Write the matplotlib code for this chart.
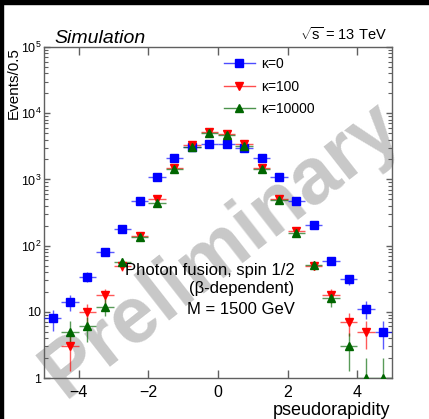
import numpy as np
import matplotlib
matplotlib.use("Agg")
import matplotlib.pyplot as plt
from matplotlib.lines import Line2D
from matplotlib.patches import Rectangle
from matplotlib.ticker import LogLocator, FuncFormatter, NullLocator, FixedLocator
from matplotlib.colors import to_rgba

plt.rcParams['font.family'] = ['Liberation Sans', 'DejaVu Sans']
plt.rcParams['mathtext.fontset'] = 'custom'
plt.rcParams['mathtext.rm'] = 'Liberation Sans'
plt.rcParams['mathtext.it'] = 'Liberation Sans:italic'
plt.rcParams['mathtext.bf'] = 'Liberation Sans:bold'

# ---- data ----
eta_centers = [-4.75, -4.25, -3.75, -3.25, -2.75, -2.25, -1.75, -1.25, -0.75, -0.25,
               0.25, 0.75, 1.25, 1.75, 2.25, 2.75, 3.25, 3.75, 4.25, 4.75]
bin_half_width = 0.25
kappa0 = [8, 14, 34, 79, 178, 472, 1075, 2130, 3040, 3390,
          3460, 3010, 2080, 1100, 472, 205, 59, 31, 11, 5]
kappa100 = [0, 3, 10, 18, 49, 141, 511, 1500, 3300, 5150,
            4900, 3390, 1500, 505, 166, 50, 18, 7, 5, 0]
kappa10000 = [0, 5, 6, 12, 57, 133, 440, 1435, 3100, 4960,
              4730, 3230, 1435, 490, 155, 51, 16, 3, 1, 1]
series_labels = ['κ=0', 'κ=100', 'κ=10000']
x_ticks = [-4, -2, 0, 2, 4]

W, H = 429, 419
fig = plt.figure(figsize=(W / 100, H / 100), dpi=100)
ax = fig.add_axes([44 / W, 41 / H, 348 / W, 331 / H])

styles = [
    dict(marker='s', color='#0000ff', ms=5.8),
    dict(marker='v', color='#ff0000', ms=6.2),
    dict(marker='^', color='#006600', ms=6.2),
]
handles = []
for vals, st, lab in zip([kappa0, kappa100, kappa10000], styles, series_labels):
    x = np.array(eta_centers)
    y = np.array(vals, dtype=float)
    m = y > 0
    ax.errorbar(x[m], y[m], xerr=bin_half_width, yerr=np.sqrt(y[m]),
                fmt=st['marker'], color=st['color'], ms=st['ms'],
                ecolor=to_rgba(st['color'], 0.65), elinewidth=1.0,
                capsize=0, mec=st['color'], zorder=3)
    handles.append(Line2D([0], [0], marker=st['marker'], color=to_rgba(st['color'], 0.7),
                          mfc=st['color'], mec=st['color'], ms=st['ms'], lw=1.0))

ax.set_xlim(-5, 5)
ax.set_yscale('log')
ax.set_ylim(1, 1e5)

ax.xaxis.set_major_locator(FixedLocator(x_ticks))
ax.xaxis.set_minor_locator(NullLocator())
ax.xaxis.set_major_formatter(FuncFormatter(lambda v, p: ('\u2212%d' % abs(v)) if v < 0 else '%d' % v))
ax.yaxis.set_major_locator(LogLocator(base=10, numticks=10))
ax.yaxis.set_minor_locator(LogLocator(base=10, subs=np.arange(2, 10), numticks=20))

def yfmt(v, p):
    e = int(round(np.log10(v)))
    if e == 0:
        return '1'
    if e == 1:
        return '10'
    return r'$10^{%d}$' % e
ax.yaxis.set_major_formatter(FuncFormatter(yfmt))

spine_col = '#606060'
for s in ax.spines.values():
    s.set_color(spine_col)
    s.set_linewidth(1.0)
ax.tick_params(axis='both', which='both', direction='in', top=True, right=True,
               color=spine_col, labelcolor='black')
ax.tick_params(axis='x', which='major', length=5.8, width=1.0, labelsize=11.5, pad=5)
ax.tick_params(axis='y', which='major', length=4.5, width=1.0, labelsize=9, pad=2)
ax.tick_params(axis='y', which='minor', length=2.8, width=0.8)

# watermark
ax.text(222 / W, 1 - 250 / H, 'Preliminary', transform=fig.transFigure,
        rotation=38, fontsize=57, fontweight='bold', color='#c8c8c8',
        ha='center', va='center', zorder=0.5, clip_on=False)

leg = fig.legend(handles=handles, labels=series_labels, loc='upper left',
                 bbox_to_anchor=(224 / W, 1 - 57 / H), frameon=False, fontsize=10,
                 handlelength=2.2, handletextpad=0.45, labelspacing=0.62,
                 borderpad=0, borderaxespad=0, numpoints=1)

fig.text(54 / W, 1 - 43 / H, 'Simulation', style='italic', fontsize=14, va='baseline')
fig.text(387 / W, 1 - 40 / H, r'$\sqrt{\mathrm{s}}$ = 13 TeV', fontsize=10.5,
         ha='right', va='baseline')
fig.text(13.5 / W, 1 - 47 / H, 'Events/0.5', rotation=90, fontsize=11,
         ha='center', va='top')
fig.text(390 / W, 1 - 415 / H, 'pseudorapidity', fontsize=13, ha='right', va='baseline')

fig.text(294.5 / W, 1 - 275 / H, 'Photon fusion, spin 1/2', fontsize=12,
         ha='right', va='baseline')
fig.text(294.5 / W, 1 - 293 / H, '(β-dependent)', fontsize=12, ha='right', va='baseline')
fig.text(294.5 / W, 1 - 314 / H, 'M = 1500 GeV', fontsize=12, ha='right', va='baseline')

# black border strips
fig.patches.append(Rectangle((0, 1 - 4 / H), 1, 4 / H, transform=fig.transFigure,
                             color='black', zorder=10))
fig.patches.append(Rectangle((0, 0), 3 / W, 1, transform=fig.transFigure,
                             color='black', zorder=10))

fig.savefig('out.png', dpi=100)
